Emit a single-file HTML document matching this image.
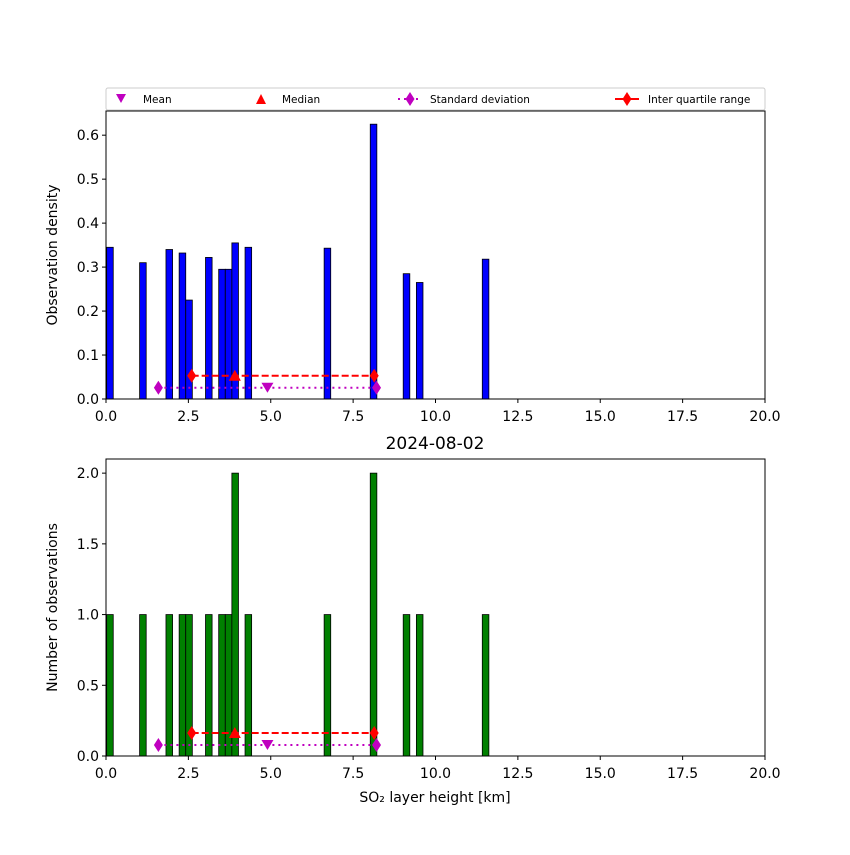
<!DOCTYPE html>
<html><head><meta charset="utf-8"><style>
body{margin:0;background:#fff}
text{font-family:"DejaVu Sans","Liberation Sans",sans-serif;fill:#000}
</style></head><body>
<svg id="chart" width="850" height="850" xmlns="http://www.w3.org/2000/svg"></svg>
<script>
const binStarts=[0.0,1.0,1.8,2.2,2.4,3.0,3.4,3.6,3.8,4.2,6.6,8.0,9.0,9.4,11.4];
const binWidth=0.2;
const density=[0.345,0.31,0.34,0.332,0.225,0.322,0.295,0.295,0.355,0.345,0.343,0.625,0.285,0.265,0.318];
const counts=[1,1,1,1,1,1,1,1,2,1,1,2,1,1,1];
const xTicks=[0,2.5,5,7.5,10,12.5,15,17.5,20];
const yTicksTop=[0,0.1,0.2,0.3,0.4,0.5,0.6];
const yTicksBot=[0,0.5,1.0,1.5,2.0];
const stats={mean:4.9,median:3.91,std:[1.59,8.21],iqr:[2.6,8.14]};
const statYTop={iqr:0.053,std:0.0257};
const statYBot={iqr:0.163,std:0.078};

const NS="http://www.w3.org/2000/svg";
const svg=document.getElementById('chart');
function el(tag,attrs,parent){const e=document.createElementNS(NS,tag);for(const k in attrs)e.setAttribute(k,attrs[k]);(parent||svg).appendChild(e);return e;}
const X0=106,X1=765;
const xs=v=>X0+(X1-X0)*v/20;

function panel(top,bottom,ymax,yTicks,vals,color,sy,name,ylabel){
  const ys=v=>bottom-(bottom-top)*v/ymax;
  const g=el('g',{});
  
  
  binStarts.forEach((b,i)=>{
    const r=el('rect',{x:xs(b+0.02),y:ys(vals[i]),width:xs(b+binWidth)-xs(b),height:bottom-ys(vals[i]),fill:color,stroke:'#000','stroke-width':0.8},g);
    
    
  });
  el('line',{x1:xs(stats.std[0]),x2:xs(stats.std[1]),y1:ys(sy.std),y2:ys(sy.std),stroke:'#bf00bf','stroke-width':2,'stroke-dasharray':'2,4'},g);
  el('line',{x1:xs(stats.iqr[0]),x2:xs(stats.iqr[1]),y1:ys(sy.iqr),y2:ys(sy.iqr),stroke:'#f00','stroke-width':2,'stroke-dasharray':'7,3'},g);
  const dia=(x,y,c)=>el('path',{d:`M${x},${y-7}L${x+4.5},${y}L${x},${y+7}L${x-4.5},${y}Z`,fill:c},g);
  dia(xs(stats.std[0]),ys(sy.std),'#bf00bf');dia(xs(stats.std[1]),ys(sy.std),'#bf00bf');
  dia(xs(stats.iqr[0]),ys(sy.iqr),'#f00');dia(xs(stats.iqr[1]),ys(sy.iqr),'#f00');
  let mx=xs(stats.mean),my=ys(sy.std);
  el('path',{d:`M${mx-6},${my-5}L${mx+6},${my-5}L${mx},${my+5}Z`,fill:'#bf00bf'},g);
  mx=xs(stats.median);my=ys(sy.iqr);
  el('path',{d:`M${mx-6},${my+5}L${mx+6},${my+5}L${mx},${my-6}Z`,fill:'#f00'},g);
  el('rect',{x:X0,y:top,width:X1-X0,height:bottom-top,fill:'none',stroke:'#000','stroke-width':1},g);
  xTicks.forEach(t=>{
    el('line',{x1:xs(t),x2:xs(t),y1:bottom,y2:bottom+4,stroke:'#000'},g);
    const tx=el('text',{x:xs(t),y:bottom+22,'text-anchor':'middle','font-size':14},g);tx.textContent=t.toFixed(1);
  });
  yTicks.forEach(t=>{
    el('line',{x1:X0-4,x2:X0,y1:ys(t),y2:ys(t),stroke:'#000'},g);
    const tx=el('text',{x:X0-7,y:ys(t)+5,'text-anchor':'end','font-size':14},g);tx.textContent=t.toFixed(1);
  });
  const yl=el('text',{x:0,y:0,'text-anchor':'middle','font-size':14,transform:`translate(57,${(top+bottom)/2}) rotate(-90)`},g);
  yl.textContent=ylabel;
  
  
}
panel(111,399,0.655,yTicksTop,density,'#0000ff',statYTop,'density-panel','Observation density');
panel(459,756,2.1,yTicksBot,counts,'#008000',statYBot,'count-panel','Number of observations');

const title=el('text',{x:435,y:449,'text-anchor':'middle','font-size':17});
title.textContent='2024-08-02';


const xl=el('text',{x:435,y:802,'text-anchor':'middle','font-size':14});
xl.textContent='SO₂ layer height [km]';



const lg=el('g',{});


el('rect',{x:106,y:88,width:659,height:22,rx:2,fill:'#fff',stroke:'#ccc'},lg);
el('path',{d:'M116,94L126,94L121,103Z',fill:'#bf00bf'},lg);
el('path',{d:'M256,104L266,104L261,94Z',fill:'#f00'},lg);
el('line',{x1:398,x2:422,y1:99,y2:99,stroke:'#bf00bf','stroke-width':2,'stroke-dasharray':'2,4'},lg);
el('path',{d:'M410,92L414.5,99L410,106L405.5,99Z',fill:'#bf00bf'},lg);
el('line',{x1:615,x2:639,y1:99,y2:99,stroke:'#f00','stroke-width':2},lg);
el('path',{d:'M627,92L631.5,99L627,106L622.5,99Z',fill:'#f00'},lg);
[['Mean',143],['Median',282],['Standard deviation',430],['Inter quartile range',648]].forEach(([t,x])=>{
  const tx=el('text',{x:x,y:103,'font-size':10.5},lg);tx.textContent=t;
  
  
});
</script>
</body></html>
